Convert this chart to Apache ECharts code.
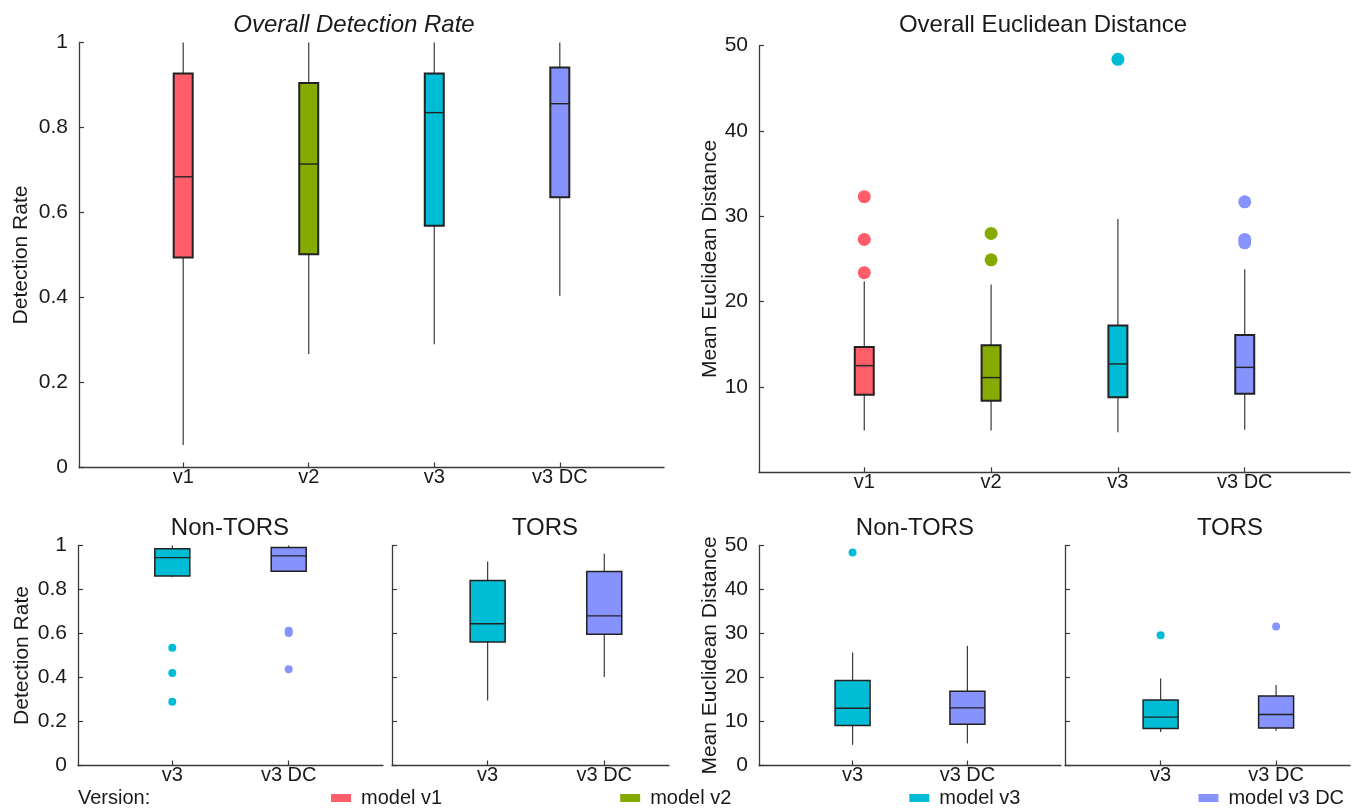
<!DOCTYPE html>
<html>
<head>
<meta charset="utf-8">
<title>Detection rate and Euclidean distance by model version</title>
<script src="https://cdn.jsdelivr.net/npm/echarts@6/dist/echarts.min.js"></script>
<style>
  html, body { margin: 0; padding: 0; background: #fff; }
  #chart { width: 1359px; height: 808px; }
</style>
</head>
<body>
<div id="chart"></div>
<script>
// categories and legend
const versionsAll = ['v1', 'v2', 'v3', 'v3 DC'];
const versionsSub = ['v3', 'v3 DC'];
const modelNames = ['model v1', 'model v2', 'model v3', 'model v3 DC'];
const modelColors = ['#ff5d69', '#85aa00', '#00bcd4', '#8693ff'];

// box stats per version: [low whisker, Q1, median, Q3, high whisker]
const detOverall = [
  [0.053, 0.494, 0.684, 0.927, 1.0],
  [0.267, 0.502, 0.714, 0.905, 1.0],
  [0.290, 0.569, 0.835, 0.927, 1.0],
  [0.404, 0.636, 0.856, 0.941, 1.0]
];
const detOverallOut = [[], [], [], []];

const distOverall = [
  [4.9, 9.1, 12.5, 14.7, 22.4],
  [4.9, 8.4, 11.1, 14.9, 22.0],
  [4.7, 8.8, 12.7, 17.2, 29.7],
  [5.0, 9.2, 12.3, 16.1, 23.8]
];
const distOverallOut = [[23.4, 27.3, 32.3], [24.9, 28.0], [48.4], [26.9, 27.3, 31.7]];

// sub panels hold v3 and v3 DC only
const detNonTors = [
  [0.856, 0.861, 0.945, 0.985, 1.0],
  [0.880, 0.883, 0.953, 0.991, 1.0]
];
const detNonTorsOut = [[0.535, 0.420, 0.290], [0.612, 0.602, 0.438]];
const detTors = [
  [0.295, 0.561, 0.644, 0.841, 0.927],
  [0.402, 0.597, 0.680, 0.882, 0.962]
];
const detTorsOut = [[], []];

const distNonTors = [
  [4.7, 9.1, 13.0, 19.3, 25.7],
  [5.0, 9.4, 13.1, 16.9, 27.2]
];
const distNonTorsOut = [[48.4], []];
const distTors = [
  [7.6, 8.4, 11.0, 14.9, 19.8],
  [7.9, 8.5, 11.6, 15.8, 18.3]
];
const distTorsOut = [[29.6], [31.6]];

const FONT = 'Liberation Sans, Arial, sans-serif';
const INK = '#1a1a1a';
const AXIS = '#3a3a3a';

const panels = [
  { grid: { left: 79, top: 42.5, width: 585, height: 425 }, xMin: 0.17, xMax: 4.83,
    cats: versionsAll, models: [0, 1, 2, 3], stats: detOverall, outliers: detOverallOut,
    yMax: 1, yStep: 0.2, yLabels: true, showMin: true, yName: 'Detection Rate', nameGap: 47,
    boxW: 19, edge: 2, dot: 13 },
  { grid: { left: 759, top: 45.7, width: 591, height: 426.6 }, xMin: 0.17, xMax: 4.83,
    cats: versionsAll, models: [0, 1, 2, 3], stats: distOverall, outliers: distOverallOut,
    yMax: 50, yStep: 10, yLabels: true, showMin: false, yName: 'Mean Euclidean Distance', nameGap: 36,
    boxW: 19, edge: 2, dot: 13 },
  { grid: { left: 78, top: 545.5, width: 305, height: 220 }, xMin: 0.19, xMax: 2.81,
    cats: versionsSub, models: [2, 3], stats: detNonTors, outliers: detNonTorsOut,
    yMax: 1, yStep: 0.2, yLabels: true, showMin: true, yName: 'Detection Rate', nameGap: 45,
    boxW: 35, edge: 1.5, dot: 8 },
  { grid: { left: 392, top: 545.5, width: 277, height: 220 }, xMin: 0.18, xMax: 2.555,
    cats: versionsSub, models: [2, 3], stats: detTors, outliers: detTorsOut,
    yMax: 1, yStep: 0.2, yLabels: false, showMin: true, yName: '', nameGap: 0,
    boxW: 35, edge: 1.5, dot: 8 },
  { grid: { left: 759, top: 545.5, width: 302, height: 220 }, xMin: 0.185, xMax: 2.815,
    cats: versionsSub, models: [2, 3], stats: distNonTors, outliers: distNonTorsOut,
    yMax: 50, yStep: 10, yLabels: true, showMin: true, yName: 'Mean Euclidean Distance', nameGap: 38,
    boxW: 35, edge: 1.5, dot: 8 },
  { grid: { left: 1065, top: 545.5, width: 285, height: 220 }, xMin: 0.172, xMax: 2.64,
    cats: versionsSub, models: [2, 3], stats: distTors, outliers: distTorsOut,
    yMax: 50, yStep: 10, yLabels: false, showMin: true, yName: '', nameGap: 0,
    boxW: 35, edge: 1.5, dot: 8 }
];

// box with whiskers and median, no end caps
function boxRenderer(boxWidth, edgeWidth) {
  return function (params, api) {
    const x = api.value(0);
    const low = api.coord([x, api.value(1)]);
    const q1 = api.coord([x, api.value(2)]);
    const med = api.coord([x, api.value(3)]);
    const q3 = api.coord([x, api.value(4)]);
    const high = api.coord([x, api.value(5)]);
    const half = boxWidth / 2;
    const whisker = { stroke: AXIS, lineWidth: 1.2 };
    return {
      type: 'group',
      children: [
        { type: 'line', shape: { x1: low[0], y1: low[1], x2: q1[0], y2: q1[1] }, style: whisker },
        { type: 'line', shape: { x1: q3[0], y1: q3[1], x2: high[0], y2: high[1] }, style: whisker },
        { type: 'rect',
          shape: { x: q3[0] - half, y: q3[1], width: boxWidth, height: q1[1] - q3[1] },
          style: { fill: api.visual('color'), stroke: '#222', lineWidth: edgeWidth } },
        { type: 'line', shape: { x1: med[0] - half, y1: med[1], x2: med[0] + half, y2: med[1] },
          style: { stroke: '#222', lineWidth: 1.4 } }
      ]
    };
  };
}

const grids = [], xAxes = [], yAxes = [], series = [];

panels.forEach(function (p, k) {
  grids.push(Object.assign({ containLabel: false }, p.grid));
  const positions = p.cats.map(function (c, i) { return i + 1; });
  xAxes.push({
    gridIndex: k, type: 'value', min: p.xMin, max: p.xMax,
    axisLine: { show: true, onZero: false, lineStyle: { color: AXIS, width: 1.3 } },
    axisTick: { show: true, inside: true, length: 5, customValues: positions,
                lineStyle: { color: AXIS, width: 1.2 } },
    axisLabel: { customValues: positions, fontSize: 20, margin: 0, color: INK, fontFamily: FONT,
                 formatter: function (v) { return p.cats[Math.round(v) - 1]; } },
    splitLine: { show: false }
  });
  yAxes.push({
    gridIndex: k, type: 'value', min: 0, max: p.yMax, interval: p.yStep,
    axisLine: { show: true, onZero: false, lineStyle: { color: AXIS, width: 1.3 } },
    axisTick: { show: true, inside: true, length: 5, lineStyle: { color: AXIS, width: 1.2 } },
    axisLabel: { show: p.yLabels, showMinLabel: p.showMin, fontSize: 21, margin: 11,
                 color: INK, fontFamily: FONT },
    splitLine: { show: false },
    name: p.yName, nameLocation: 'middle', nameGap: p.nameGap,
    nameTextStyle: { fontSize: 21, color: INK, fontFamily: FONT }
  });
  p.cats.forEach(function (c, i) {
    const m = p.models[i];
    series.push({
      type: 'custom', name: modelNames[m], xAxisIndex: k, yAxisIndex: k,
      renderItem: boxRenderer(p.boxW, p.edge),
      encode: { x: 0, y: [1, 2, 3, 4, 5] },
      itemStyle: { color: modelColors[m] },
      data: [[i + 1].concat(p.stats[i])],
      silent: true
    });
    if (p.outliers[i].length) {
      series.push({
        type: 'scatter', name: modelNames[m], xAxisIndex: k, yAxisIndex: k,
        symbol: 'circle', symbolSize: p.dot,
        itemStyle: { color: modelColors[m], opacity: 1 },
        data: p.outliers[i].map(function (v) { return [i + 1, v]; }),
        silent: true
      });
    }
  });
});

function panelTitle(text, x, y, italic) {
  return {
    text: text, left: x, top: y, textAlign: 'center', padding: 0,
    textStyle: { fontSize: 24, fontWeight: 'normal', fontStyle: italic ? 'italic' : 'normal',
                 color: INK, fontFamily: FONT }
  };
}

const chart = echarts.init(document.getElementById('chart'), null, { renderer: 'canvas' });
chart.setOption({
  animation: false,
  backgroundColor: '#ffffff',
  textStyle: { fontFamily: FONT },
  title: [
    panelTitle('Overall Detection Rate', 354, 13, true),
    panelTitle('Overall Euclidean Distance', 1043, 13, false),
    panelTitle('Non-TORS', 230, 516, false),
    panelTitle('TORS', 545, 516, false),
    panelTitle('Non-TORS', 915, 516, false),
    panelTitle('TORS', 1230, 516, false),
    { text: 'Version:', left: 78, top: 788, padding: 0,
      textStyle: { fontSize: 20, fontWeight: 'normal', color: INK, fontFamily: FONT } }
  ],
  legend: {
    data: modelNames, left: 331, top: 788, padding: 0,
    icon: 'rect', itemWidth: 20, itemHeight: 8, itemGap: 178,
    itemStyle: { borderWidth: 0 },
    textStyle: { fontSize: 20, color: INK, fontFamily: FONT, padding: [0, 0, 0, 5] },
    selectedMode: false
  },
  grid: grids,
  xAxis: xAxes,
  yAxis: yAxes,
  series: series
});
</script>
</body>
</html>
